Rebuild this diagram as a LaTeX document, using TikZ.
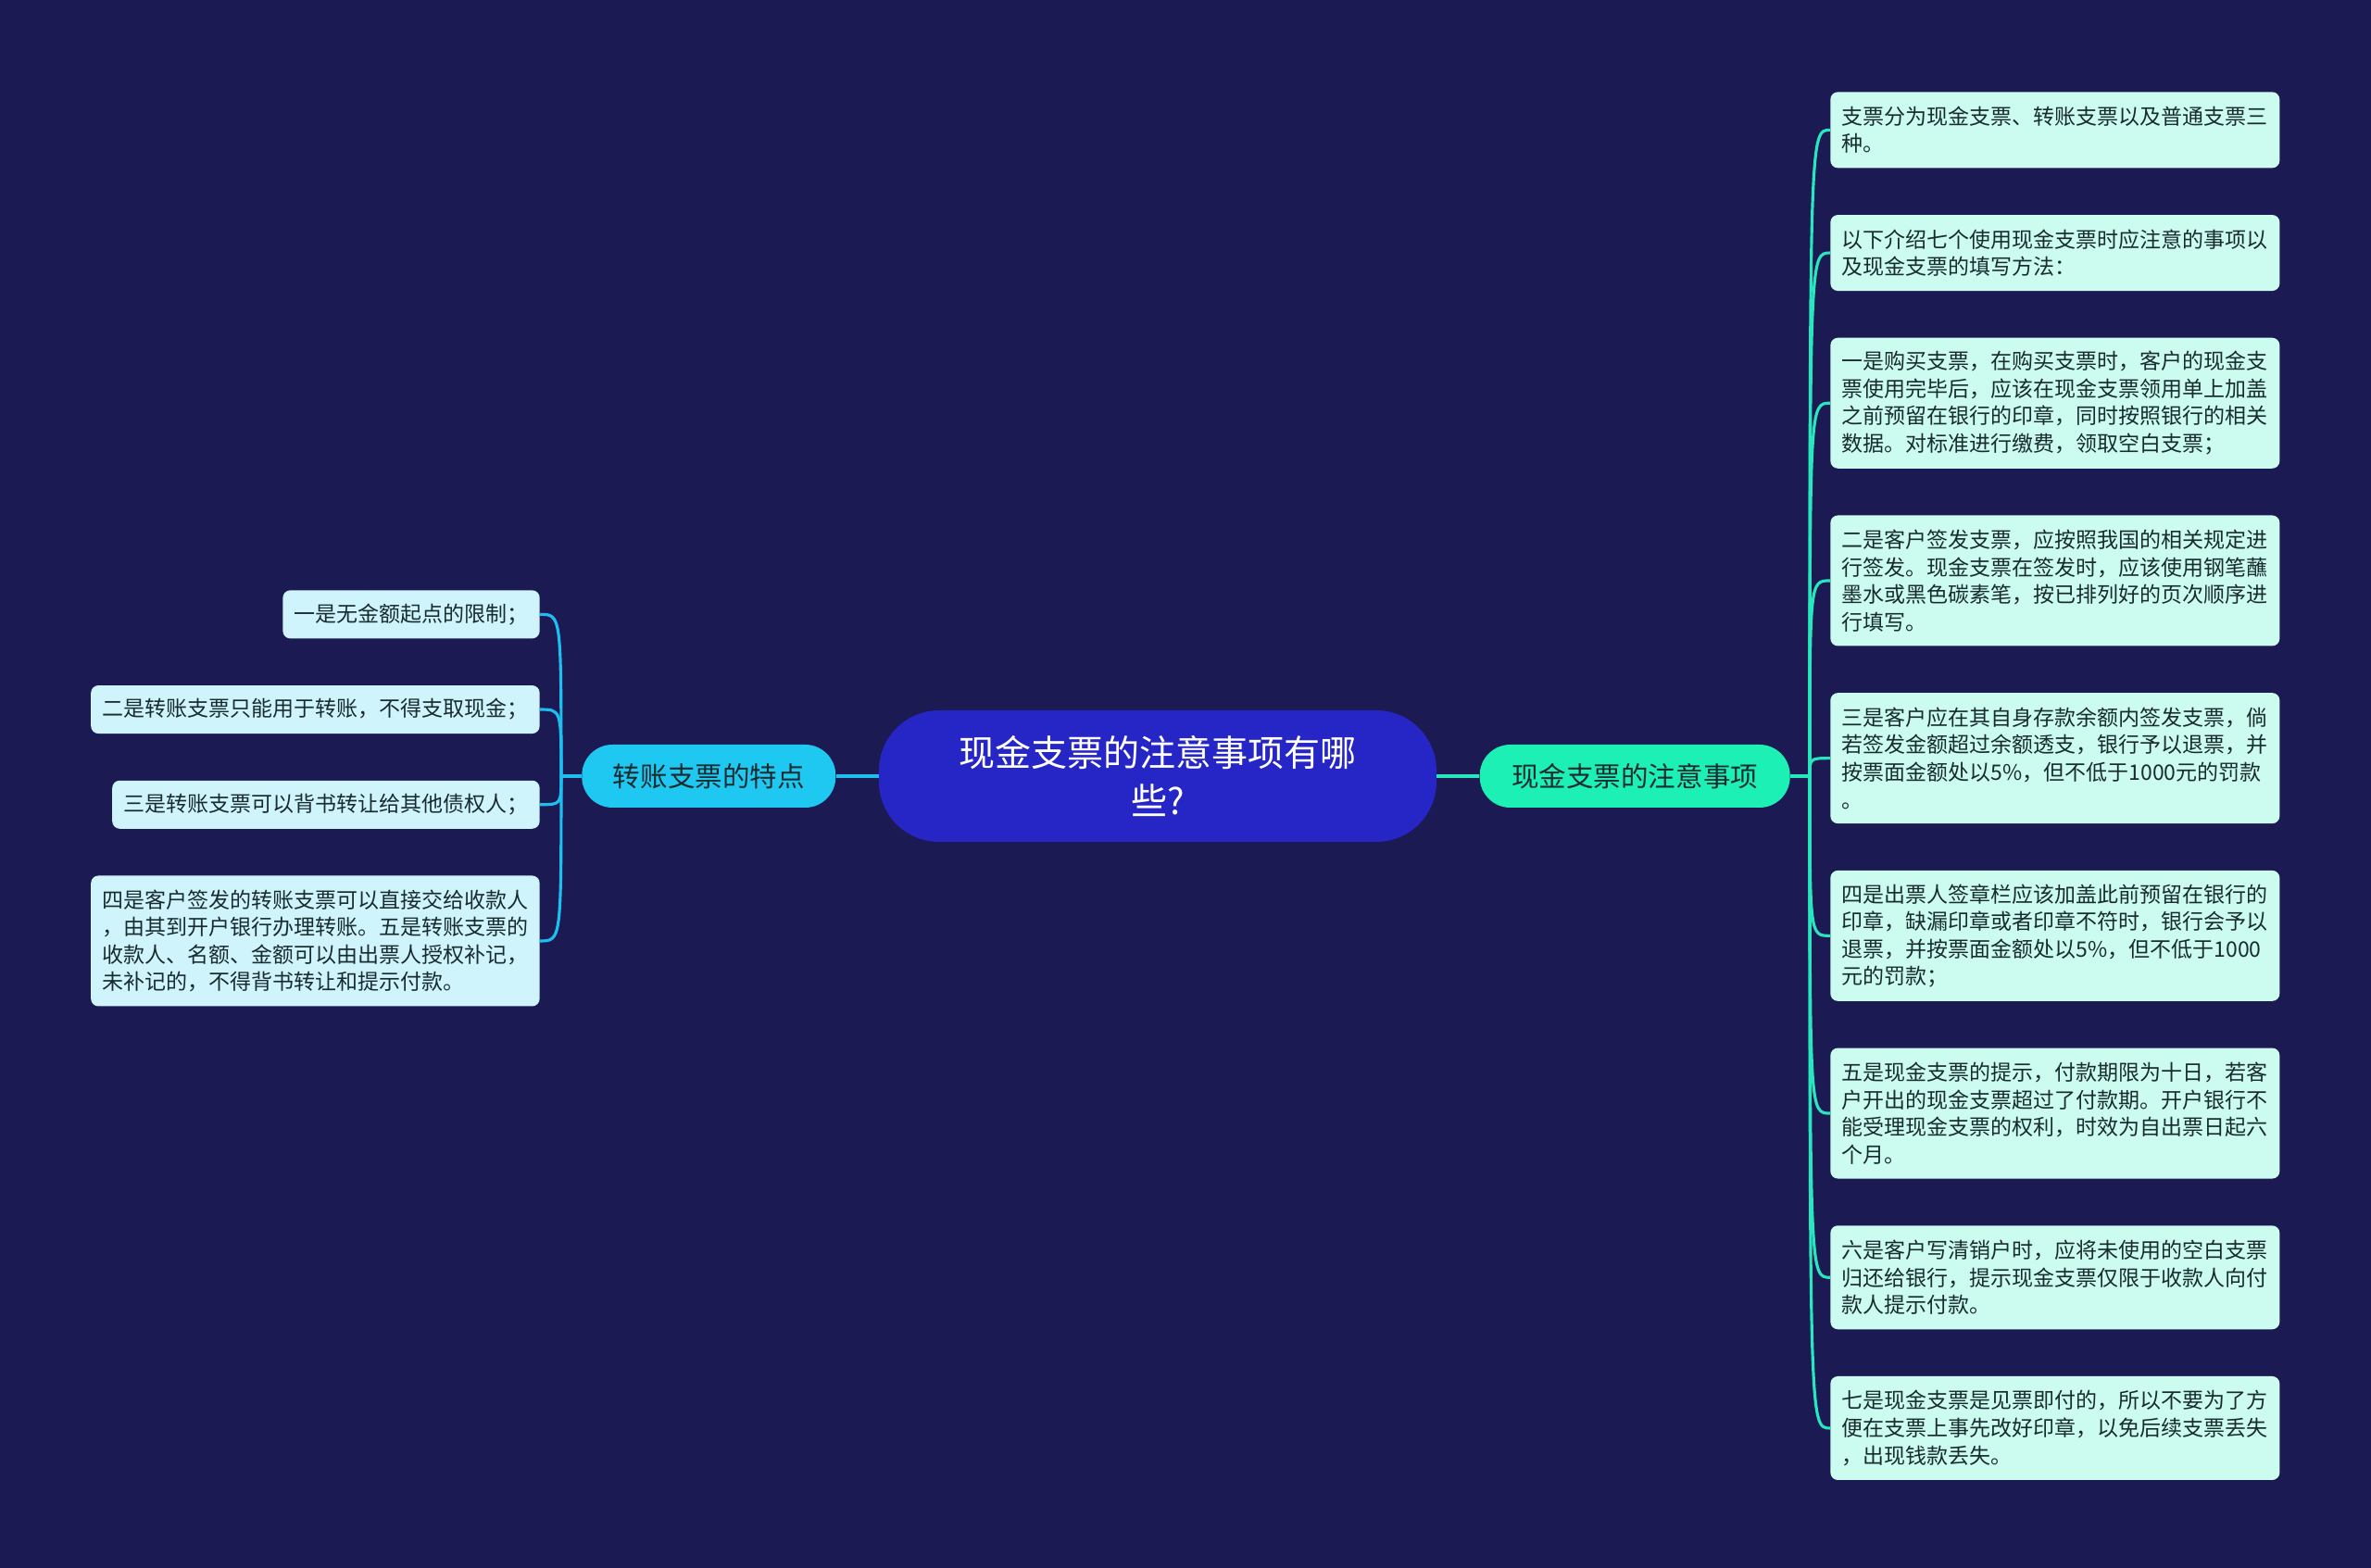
\documentclass[tikz,border=0pt]{standalone}
\usepackage{fontspec}
\setmainfont{Noto Sans CJK SC}
\usepackage{xcolor}
\usepackage{tikz}
\usetikzlibrary{positioning}
\definecolor{bgnavy}{RGB}{27,26,82}
\definecolor{rootblue}{RGB}{38,38,198}
\definecolor{leftcyan}{RGB}{30,200,240}
\definecolor{rightgreen}{RGB}{29,240,180}
\definecolor{leftpale}{RGB}{208,244,252}
\definecolor{rightpale}{RGB}{204,252,240}
\definecolor{leftline}{RGB}{30,190,240}
\definecolor{rightline}{RGB}{40,230,190}
\definecolor{inkdark}{RGB}{24,44,48}

\begin{document}
\begin{tikzpicture}[
    rootbox/.style={
        rectangle, rounded corners=1.3cm, fill=rootblue, text=white,
        minimum width=12.04cm, minimum height=2.84cm, align=center,
        font=\fontsize{22.2}{29.6}\selectfont
    },
    mainbox/.style={
        rectangle, rounded corners=0.66cm, minimum height=1.36cm,
        text=inkdark, font=\fontsize{16.8}{20}\selectfont
    },
    leafbox/.style={
        rectangle, rounded corners=0.16cm, inner xsep=0.24cm, inner ysep=0.1cm,
        align=left, text=inkdark, font=\fontsize{13.1}{16.8}\selectfont
    },
    rleaf/.style={leafbox, fill=rightpale, text width=9.22cm},
    lleaf/.style={leafbox, fill=leftpale},
    rwire/.style={draw=rightline, line width=1.8pt},
    lwire/.style={draw=leftline, line width=1.8pt}
]

\fill[bgnavy] (-25,-17.1) rectangle (26.2,16.76);
\useasboundingbox (-25,-17.1) rectangle (26.2,16.76);

\node[rootbox] (root) at (0,0) {现金支票的注意事项有哪\\些?};

\node[mainbox, fill=leftcyan, minimum width=5.48cm, left=0.92cm of root] (LM) {转账支票的特点};
\node[mainbox, fill=rightgreen, minimum width=6.7cm, right=0.92cm of root] (RM) {现金支票的注意事项};

\node[rleaf, minimum height=1.64cm, anchor=north west] (R1) at (14.52,14.78) {
    支票分为现金支票、转账支票以及普通支票三\\种。};
\node[rleaf, minimum height=1.64cm, below=1cm of R1] (R2) {
    以下介绍七个使用现金支票时应注意的事项以\\及现金支票的填写方法：};
\node[rleaf, minimum height=2.82cm, below=1cm of R2] (R3) {
    一是购买支票，在购买支票时，客户的现金支\\票使用完毕后，应该在现金支票领用单上加盖\\之前预留在银行的印章，同时按照银行的相关\\数据。对标准进行缴费，领取空白支票；};
\node[rleaf, minimum height=2.82cm, below=1cm of R3] (R4) {
    二是客户签发支票，应按照我国的相关规定进\\行签发。现金支票在签发时，应该使用钢笔蘸\\墨水或黑色碳素笔，按已排列好的页次顺序进\\行填写。};
\node[rleaf, minimum height=2.82cm, below=1cm of R4] (R5) {
    三是客户应在其自身存款余额内签发支票，倘\\若签发金额超过余额透支，银行予以退票，并\\按票面金额处以5\%，但不低于1000元的罚款\\。};
\node[rleaf, minimum height=2.82cm, below=1cm of R5] (R6) {
    四是出票人签章栏应该加盖此前预留在银行的\\印章，缺漏印章或者印章不符时，银行会予以\\退票，并按票面金额处以5\%，但不低于1000\\元的罚款；};
\node[rleaf, minimum height=2.82cm, below=1cm of R6] (R7) {
    五是现金支票的提示，付款期限为十日，若客\\户开出的现金支票超过了付款期。开户银行不\\能受理现金支票的权利，时效为自出票日起六\\个月。};
\node[rleaf, minimum height=2.24cm, below=1cm of R7] (R8) {
    六是客户写清销户时，应将未使用的空白支票\\归还给银行，提示现金支票仅限于收款人向付\\款人提示付款。};
\node[rleaf, minimum height=2.24cm, below=1cm of R8] (R9) {
    七是现金支票是见票即付的，所以不要为了方\\便在支票上事先改好印章，以免后续支票丢失\\，出现钱款丢失。};

\node[lleaf, minimum height=1.04cm, anchor=north east] (L1) at (-13.34,4.02) {一是无金额起点的限制；};
\node[lleaf, minimum height=1.04cm, below=1cm of L1.south east, anchor=north east] (L2) {二是转账支票只能用于转账，不得支取现金；};
\node[lleaf, minimum height=1.04cm, below=1cm of L2.south east, anchor=north east] (L3) {三是转账支票可以背书转让给其他债权人；};
\node[lleaf, minimum height=2.82cm, below=1cm of L3.south east, anchor=north east] (L4) {
    四是客户签发的转账支票可以直接交给收款人\\，由其到开户银行办理转账。五是转账支票的\\收款人、名额、金额可以由出票人授权补记，\\未补记的，不得背书转让和提示付款。};

\draw[lwire, line width=2.2pt] (root) -- (LM);
\draw[rwire, line width=2.2pt] (root) -- (RM);

\coordinate (jr) at ([xshift=0.42cm]RM.east);
\coordinate (jl) at ([xshift=-0.44cm]LM.west);
\draw[rwire, line width=2.2pt] (RM) -- (jr);
\draw[lwire, line width=2.2pt] (LM) -- (jl);

\draw[rwire] (jr) .. controls (jr |- R1.west) .. (R1.west);
\draw[rwire] (jr) .. controls (jr |- R2.west) .. (R2.west);
\draw[rwire] (jr) .. controls (jr |- R3.west) .. (R3.west);
\draw[rwire] (jr) .. controls (jr |- R4.west) .. (R4.west);
\draw[rwire] (jr) .. controls (jr |- R5.west) .. (R5.west);
\draw[rwire] (jr) .. controls (jr |- R6.west) .. (R6.west);
\draw[rwire] (jr) .. controls (jr |- R7.west) .. (R7.west);
\draw[rwire] (jr) .. controls (jr |- R8.west) .. (R8.west);
\draw[rwire] (jr) .. controls (jr |- R9.west) .. (R9.west);

\draw[lwire] (jl) .. controls (jl |- L1.east) .. (L1.east);
\draw[lwire] (jl) .. controls (jl |- L2.east) .. (L2.east);
\draw[lwire] (jl) .. controls (jl |- L3.east) .. (L3.east);
\draw[lwire] (jl) .. controls (jl |- L4.east) .. (L4.east);

\end{tikzpicture}
\end{document}
